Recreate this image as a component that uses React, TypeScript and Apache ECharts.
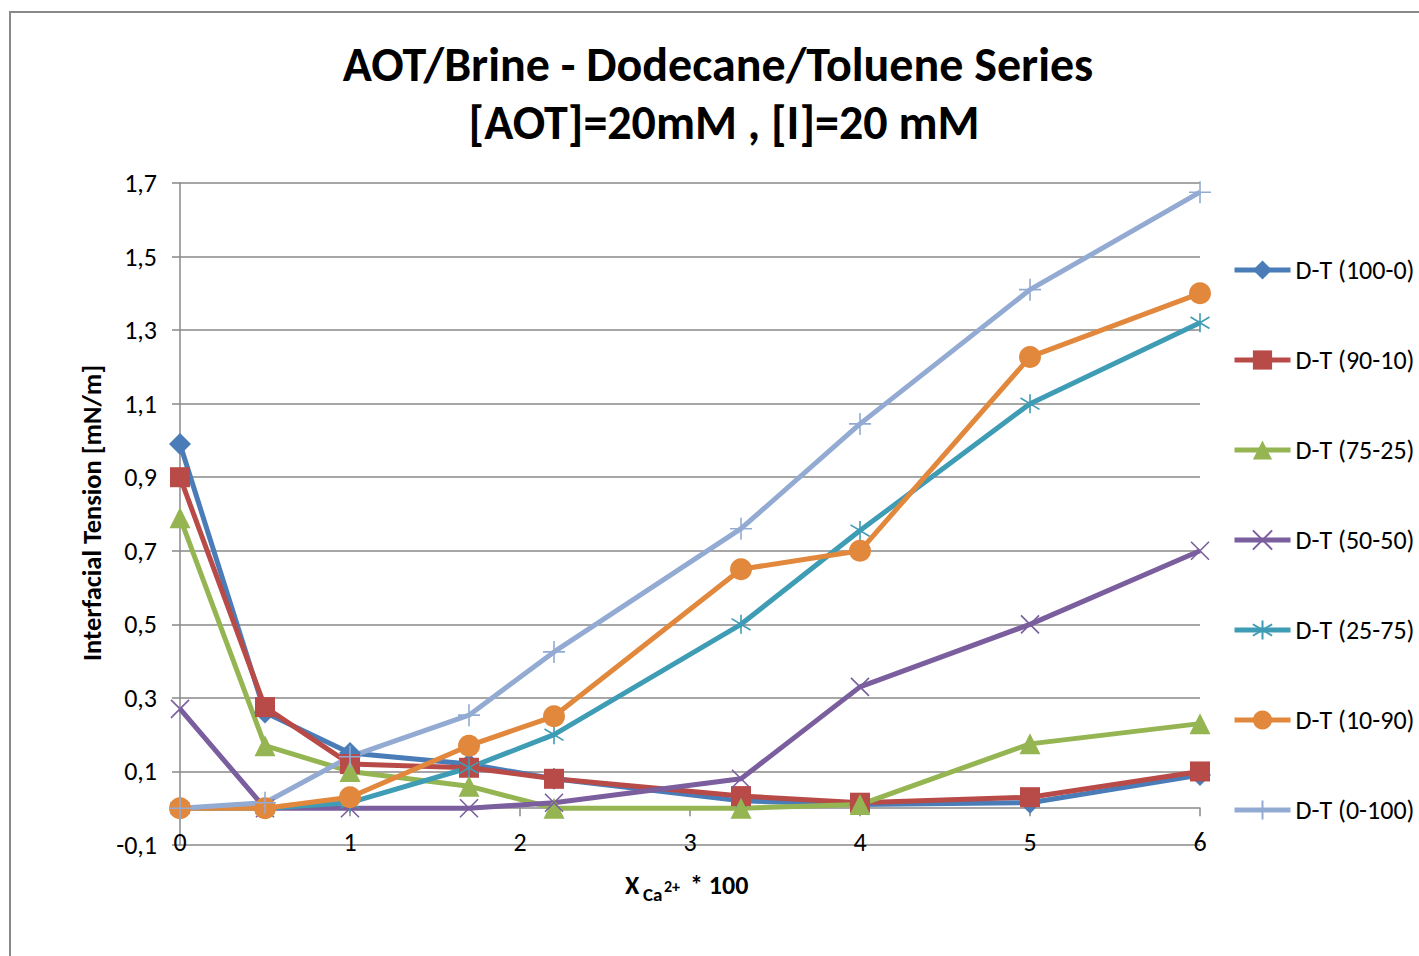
import React, { useEffect, useRef } from "react";
import * as echarts from "echarts";

const xValues = [0, 0.5, 1, 1.7, 2.2, 3.3, 4, 5, 6];
const seriesNames = [
  "D-T (100-0)",
  "D-T (90-10)",
  "D-T (75-25)",
  "D-T (50-50)",
  "D-T (25-75)",
  "D-T (10-90)",
  "D-T (0-100)",
];
const dt100_0 = [0.99, 0.26, 0.15, 0.12, 0.08, 0.02, 0.01, 0.015, 0.09];
const dt90_10 = [0.9, 0.275, 0.12, 0.11, 0.08, 0.033, 0.015, 0.03, 0.1];
const dt75_25 = [0.79, 0.17, 0.1, 0.06, 0.0, 0.0, 0.01, 0.175, 0.23];
const dt50_50 = [0.27, 0.0, 0.0, 0.0, 0.015, 0.08, 0.33, 0.5, 0.7];
const dt25_75 = [0.0, 0.0, 0.015, 0.11, 0.2, 0.5, 0.755, 1.1, 1.32];
const dt10_90 = [0.0, 0.0, 0.03, 0.17, 0.25, 0.65, 0.7, 1.227, 1.4];
const dt0_100 = [0.0, 0.015, 0.14, 0.253, 0.425, 0.76, 1.045, 1.41, 1.675];
const seriesValues = [dt100_0, dt90_10, dt75_25, dt50_50, dt25_75, dt10_90, dt0_100];

const colors = ["#4A7CB8", "#B84A47", "#94B552", "#7A5E9E", "#3E9CB5", "#E1883D", "#93ABD3"];
const symbols = [
  "diamond",
  "rect",
  "triangle",
  "path://M0,0L10,10M10,0L0,10",
  "path://M0,2L10,8M0,8L10,2M5,0L5,10",
  "circle",
  "path://M5,0L5,10M0,5L10,5",
];
const symbolSizes = [22, 20, 21, 18, 19, 22, 22];
const strokeSymbol = [false, false, false, true, true, false, true];

const yMin = -0.1;
const yMax = 1.7;
const yStep = 0.2;
const xMin = 0;
const xMax = 6;

const titleLines = ["AOT/Brine - Dodecane/Toluene Series", "[AOT]=20mM , [I]=20 mM"];
const yAxisTitle = "Interfacial Tension [mN/m]";

const FONT = "Carlito, Lato, sans-serif";
const GRID = "#898989";

export default function App() {
  const ref = useRef<HTMLDivElement>(null);
  useEffect(() => {
    if (!ref.current) return;
    const chart = echarts.init(ref.current, undefined, { renderer: "svg" });
    const series = seriesNames.map((name, i) => ({
      name,
      type: "line",
      data: xValues.map((x, j) => [x, seriesValues[i][j]]),
      symbol: symbols[i],
      symbolSize: symbolSizes[i],
      symbolKeepAspect: true,
      showAllSymbol: true,
      lineStyle: { color: colors[i], width: 5 },
      itemStyle: strokeSymbol[i]
        ? { color: colors[i], borderColor: colors[i], borderWidth: 1.6 }
        : { color: colors[i], borderWidth: 0 },
      emphasis: { disabled: true },
    }));
    chart.setOption({
      animation: false,
      backgroundColor: "#ffffff",
      grid: { left: 180, right: 219, top: 183, bottom: 111, containLabel: false },
      xAxis: {
        type: "value",
        min: xMin,
        max: xMax,
        interval: 1,
        axisLine: { show: true, onZero: true, lineStyle: { color: GRID, width: 1.5 } },
        axisTick: { show: true, length: 8, lineStyle: { color: GRID, width: 1.5 } },
        axisLabel: { margin: -16, color: "#000", fontSize: 26, fontFamily: FONT },
        splitLine: { show: false },
      },
      yAxis: {
        type: "value",
        min: yMin,
        max: yMax,
        interval: yStep,
        axisLine: { show: true, lineStyle: { color: GRID, width: 1.5 } },
        axisTick: { show: true, length: 8, lineStyle: { color: GRID, width: 1.5 } },
        axisLabel: {
          margin: 23,
          color: "#000",
          fontSize: 26,
          fontFamily: FONT,
          formatter: (v: number) => v.toFixed(1).replace(".", ","),
        },
        splitLine: { show: true, lineStyle: { color: GRID, width: 1.5 } },
      },
      legend: {
        orient: "vertical",
        left: 1232,
        top: 257,
        padding: 0,
        itemWidth: 56,
        itemHeight: 24,
        itemGap: 64,
        lineStyle: { width: 5 },
        textStyle: { fontSize: 26, fontFamily: FONT, color: "#000", padding: [0, 0, 0, 0] },
        data: seriesNames,
      },
      graphic: [
        {
          type: "rect",
          shape: { x: 10, y: 12, width: 1430, height: 980 },
          style: { fill: "none", stroke: GRID, lineWidth: 2 },
          silent: true,
        },
        {
          type: "text",
          x: 718,
          y: 64,
          style: {
            text: titleLines[0],
            font: `bold 48px ${FONT}`,
            fill: "#000",
            align: "center",
            verticalAlign: "middle",
          },
        },
        {
          type: "text",
          x: 724,
          y: 122,
          style: {
            text: titleLines[1],
            font: `bold 48px ${FONT}`,
            fill: "#000",
            align: "center",
            verticalAlign: "middle",
          },
        },
        {
          type: "text",
          x: 92,
          y: 513,
          rotation: Math.PI / 2,
          style: {
            text: yAxisTitle,
            font: `bold 26.5px ${FONT}`,
            fill: "#000",
            align: "center",
            verticalAlign: "middle",
          },
        },
        {
          type: "text",
          x: 625,
          y: 885,
          style: { text: "X", font: `bold 26px ${FONT}`, fill: "#000", align: "left", verticalAlign: "middle" },
        },
        {
          type: "text",
          x: 643,
          y: 894,
          style: { text: "Ca", font: `bold 19px ${FONT}`, fill: "#000", align: "left", verticalAlign: "middle" },
        },
        {
          type: "text",
          x: 664,
          y: 886,
          style: { text: "2+", font: `bold 16px ${FONT}`, fill: "#000", align: "left", verticalAlign: "middle" },
        },
        {
          type: "text",
          x: 690,
          y: 885,
          style: { text: "* 100", font: `bold 26px ${FONT}`, fill: "#000", align: "left", verticalAlign: "middle" },
        },
      ],
      series,
    });
    return () => chart.dispose();
  }, []);
  return (
    <div
      ref={ref}
      style={{ position: "fixed", left: 0, top: 0, width: 1419, height: 956 }}
    />
  );
}
